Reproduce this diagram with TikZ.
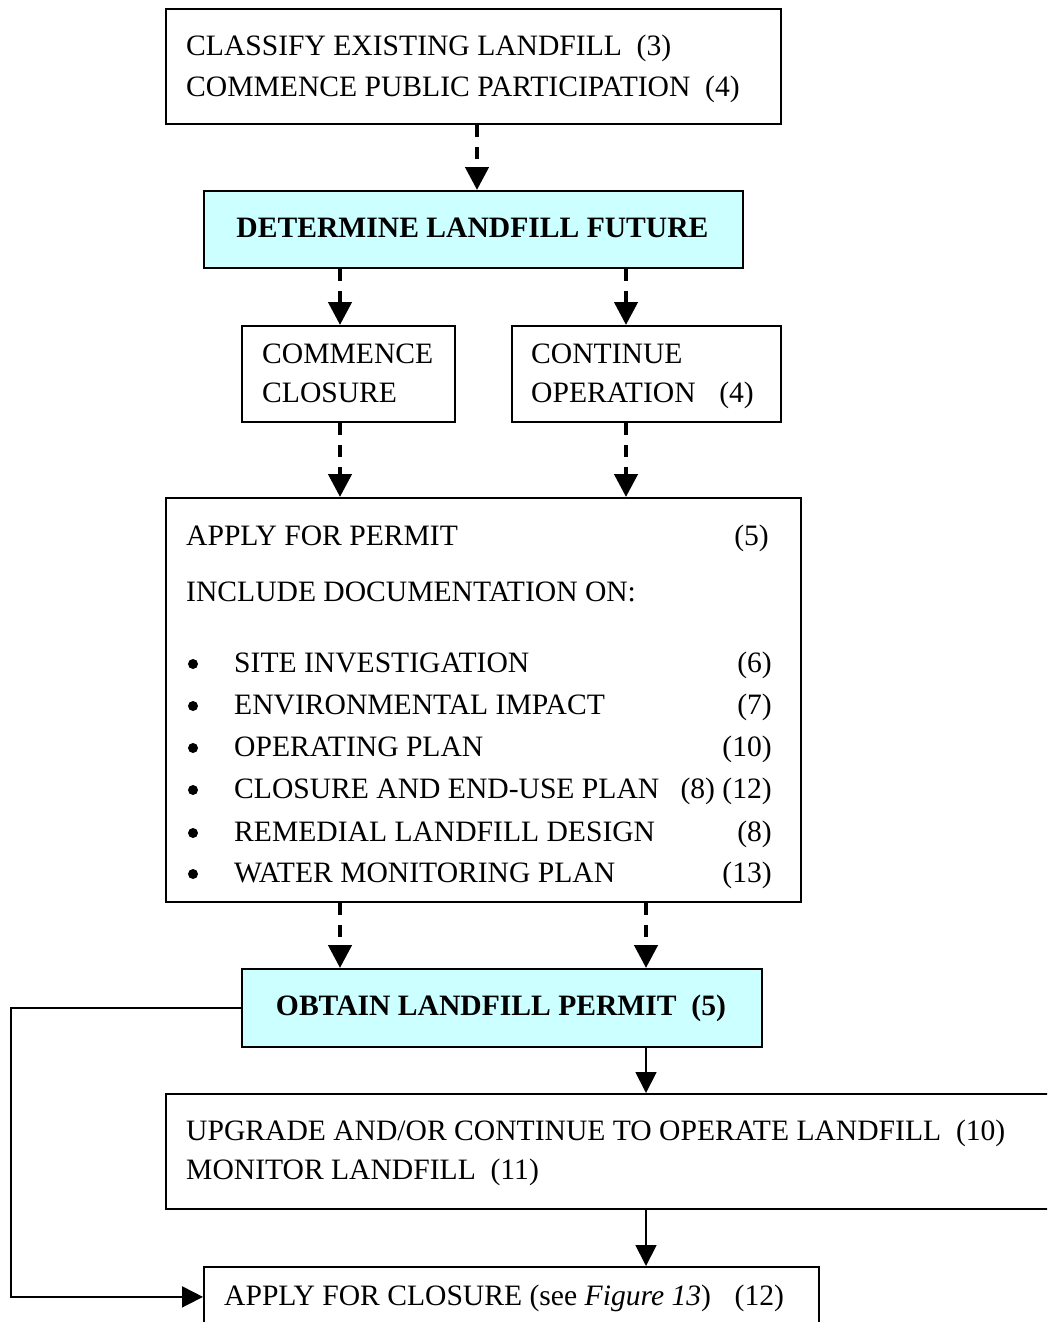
\documentclass[tikz,border=0pt]{standalone}
\usepackage{fontspec}
\setmainfont{Liberation Serif}
\usetikzlibrary{arrows.meta}
\definecolor{paleCyan}{HTML}{CCFFFF}
\begin{document}
\begin{tikzpicture}[x=1pt,y=-1pt,
  every node/.style={font=\fontsize{29.6}{35}\selectfont, inner sep=0pt},
  box/.style={draw=black, line width=1.8pt, anchor=north west, fill=white},
  keybox/.style={box, fill=paleCyan},
  txt/.style={anchor=base west},
  num/.style={anchor=base east},
  bul/.style={circle, fill=black, minimum size=10pt},
  dasharrow/.style={line width=4.5pt, dash pattern=on 12pt off 10pt,
    -{Triangle[width=23pt,length=23pt]}},
  flow/.style={line width=1.8pt, -{Triangle[width=21pt,length=21pt]}}]
\clip (0,0) rectangle (1047,1322);

% boxes
\node[box, minimum width=615pt, minimum height=115pt] (classify) at (165,8) {};
\node[keybox, minimum width=539pt, minimum height=77pt] (determine) at (203,190) {};
\node[box, minimum width=213pt, minimum height=96pt] (closure) at (241,325) {};
\node[box, minimum width=269pt, minimum height=96pt] (continue) at (511,325) {};
\node[box, minimum width=635pt, minimum height=404pt] (permit) at (165,497) {};
\node[keybox, minimum width=520pt, minimum height=78pt] (obtain) at (241,968) {};
\node[box, minimum width=900pt, minimum height=115pt] (upgrade) at (165,1093) {};
\node[box, minimum width=615pt, minimum height=60pt] (closeapp) at (203,1266) {};

% texts
\node[txt] (classifyA) at (186,55.5) {CLASSIFY EXISTING LANDFILL\ \ (3)};
\node[txt] (classifyB) at (186,96.5) {COMMENCE PUBLIC PARTICIPATION\ \ (4)};
\node[anchor=base] (determineT) at (472.5,237.5) {\textbf{DETERMINE LANDFILL FUTURE}};
\node[txt] (closureA) at (262,363.5) {COMMENCE};
\node[txt] (closureB) at (262,402.5) {CLOSURE};
\node[txt] (continueA) at (531,363.5) {CONTINUE};
\node[txt] (continueB) at (531,402.5) {OPERATION\hspace{0.8em}(4)};

\node[txt] (permitA) at (186,545.5) {APPLY FOR PERMIT};
\node[num] (permitAn) at (769,545.5) {(5)};
\node[txt] (permitB) at (186,601.5) {INCLUDE DOCUMENTATION ON:};
\foreach \y/\name/\ref [count=\i] in {
  672.5/SITE INVESTIGATION/(6),
  714.5/ENVIRONMENTAL IMPACT/(7),
  756.5/OPERATING PLAN/(10),
  798.5/CLOSURE AND END-USE PLAN/(8) (12),
  841.5/REMEDIAL LANDFILL DESIGN/(8),
  882.5/WATER MONITORING PLAN/(13)} {
  \node[bul] (bullet\i) at (193,\y-8.5) {};
  \node[txt] (item\i) at (234,\y) {\name};
  \node[num] (itemref\i) at (772,\y) {\ref};
}

\node[anchor=base] (obtainT) at (501,1015.5) {\textbf{OBTAIN LANDFILL PERMIT\ \ (5)}};
\node[txt] (upgradeA) at (186,1140.5) {UPGRADE AND/OR CONTINUE TO OPERATE LANDFILL\ \ (10)};
\node[txt] (upgradeB) at (186,1179.5) {MONITOR LANDFILL\ \ (11)};
\node[txt] (closeappT) at (224,1305) {APPLY FOR CLOSURE (see \textit{Figure 13})\hspace{0.8em}(12)};

% connector columns
\coordinate (colA) at (477,0);
\coordinate (colL) at (340,0);
\coordinate (colR) at (626,0);
\coordinate (colP) at (646,0);
\coordinate (loop) at (11,0);

% connectors
\draw[dasharrow] (classify.south -| colA) -- (determine.north -| colA);
\draw[dasharrow] (determine.south -| colL) -- (closure.north -| colL);
\draw[dasharrow] (determine.south -| colR) -- (continue.north -| colR);
\draw[dasharrow] (closure.south -| colL) -- (permit.north -| colL);
\draw[dasharrow] (continue.south -| colR) -- (permit.north -| colR);
\draw[dasharrow] (permit.south -| colL) -- (obtain.north -| colL);
\draw[dasharrow] (permit.south -| colP) -- (obtain.north -| colP);
\draw[flow] (obtain.south -| colP) -- (upgrade.north -| colP);
\draw[flow] (upgrade.south -| colP) -- (closeapp.north -| colP);
\draw[flow] (obtain.west) -- (obtain.west -| loop) |- (closeapp.west);
\end{tikzpicture}
\end{document}
